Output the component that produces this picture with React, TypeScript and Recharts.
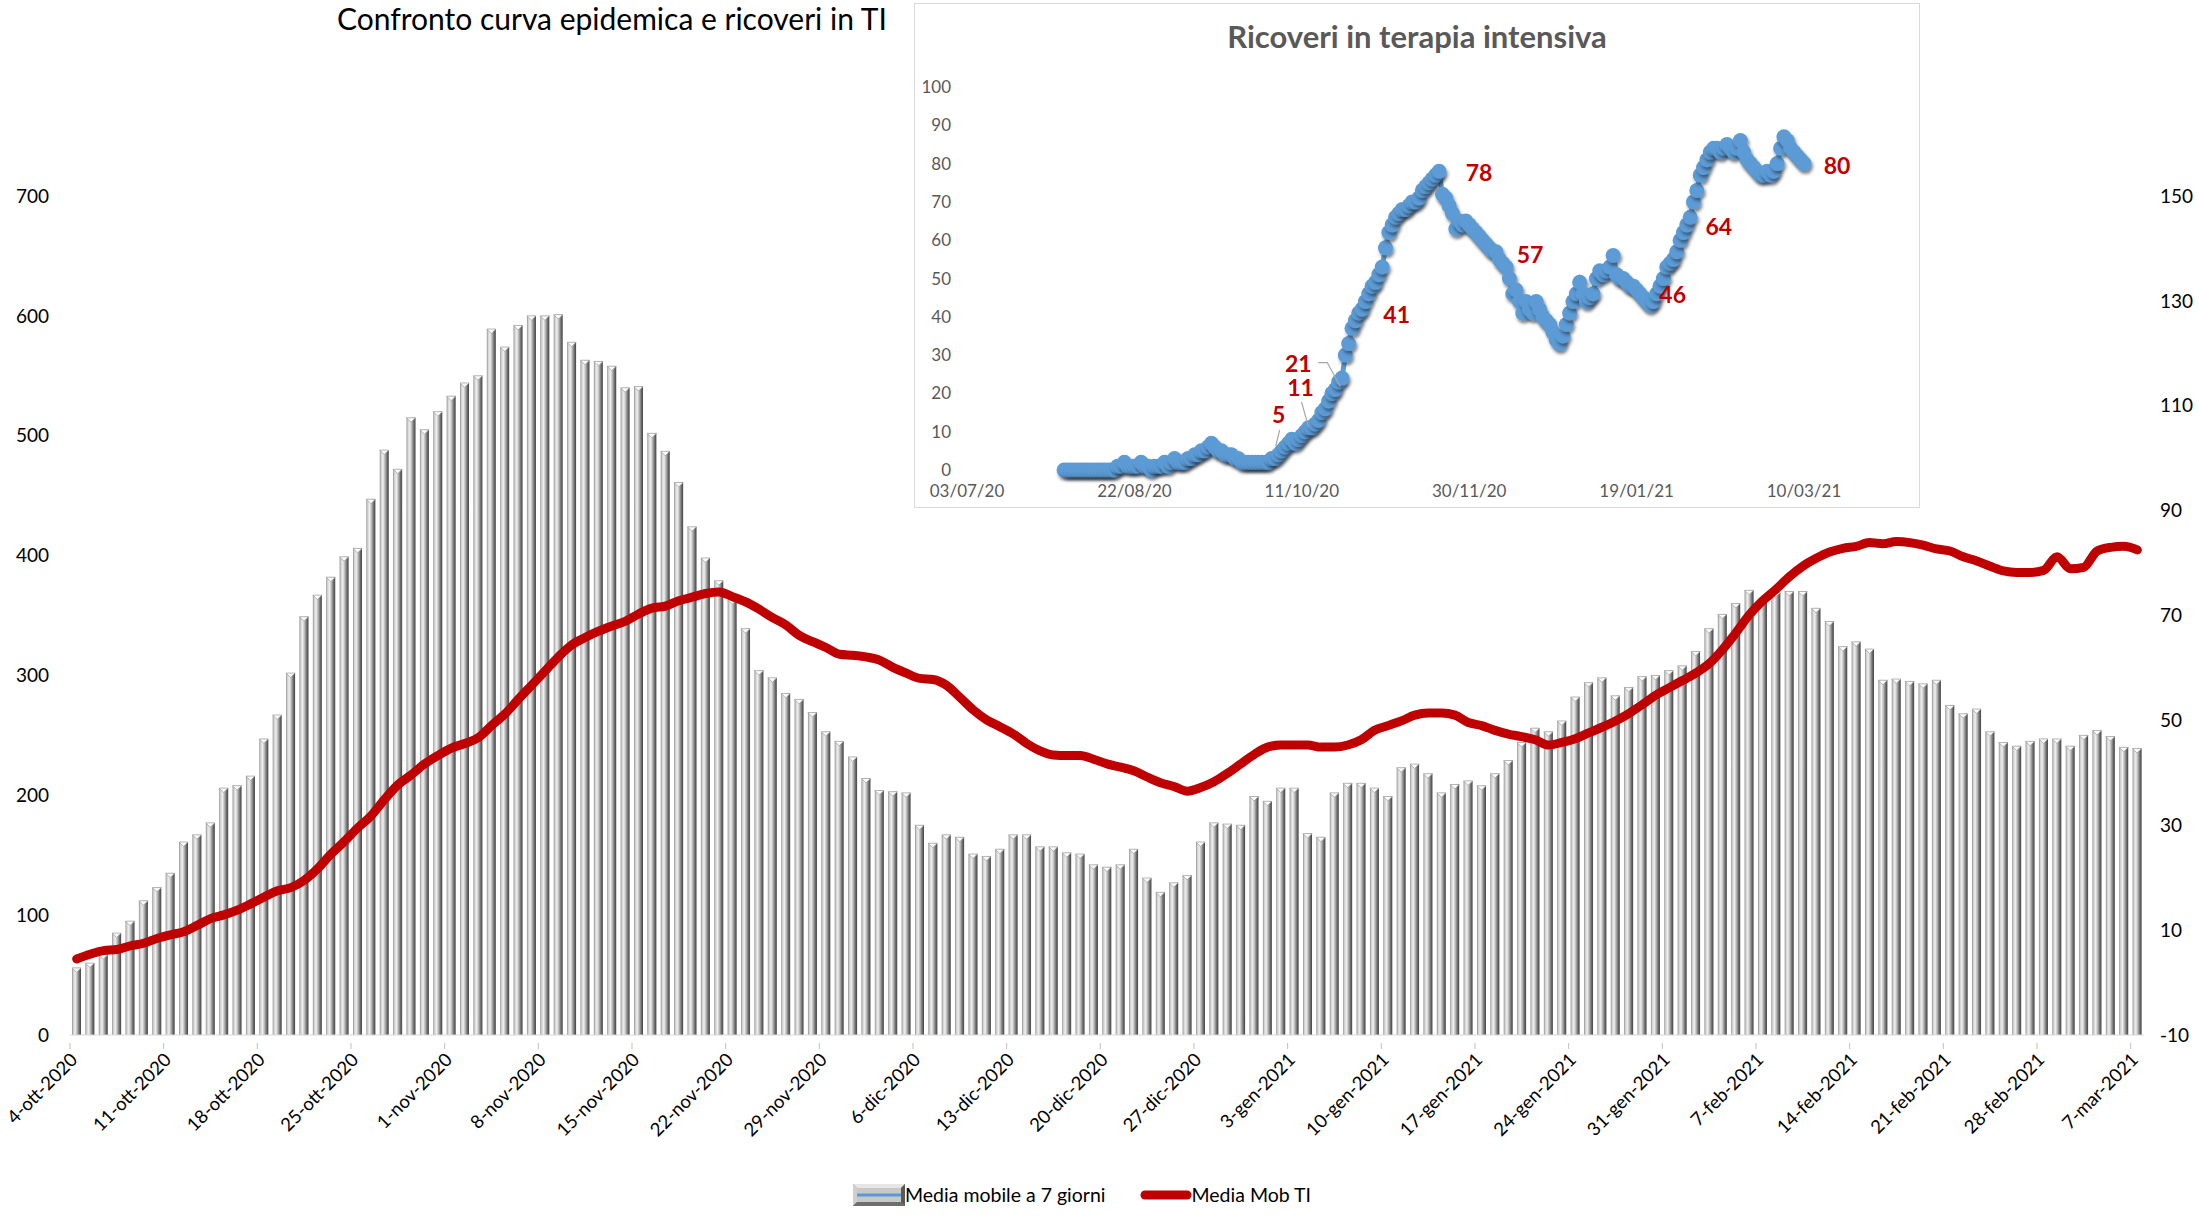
import React from 'react';
import { ComposedChart, LineChart, Bar, Line, XAxis, YAxis, LabelList } from 'recharts';

// 7-day moving average of new cases, 4-ott-2020 .. 7-mar-2021 (left axis)
const casesAvg = [
  56, 60, 67, 85, 95, 112, 123, 135, 161, 167, 177, 206, 208, 216, 247, 267, 302, 349, 367, 382,
  399, 406, 447, 488, 472, 515, 505, 520, 533, 544, 550, 589, 574, 592, 600, 600, 601, 578, 563, 562,
  558, 540, 541, 502, 487, 461, 424, 398, 379, 363, 339, 304, 298, 285, 280, 269, 253, 245, 232, 214,
  204, 203, 202, 175, 160, 167, 165, 151, 149, 155, 167, 167, 157, 157, 152, 151, 142, 140, 142, 155,
  131, 119, 127, 133, 161, 177, 176, 175, 199, 195, 206, 206, 168, 165, 202, 210, 210, 206, 199, 223,
  226, 218, 202, 209, 212, 208, 218, 229, 244, 256, 253, 262, 282, 294, 298, 283, 290, 299, 300, 304,
  308, 320, 339, 351, 360, 371, 363, 369, 370, 370, 356, 345, 324, 328, 322, 296, 297, 295, 293, 296,
  275, 268, 272, 253, 244, 241, 245, 247, 247, 241, 250, 254, 249, 240, 239,
];

// 7-day moving average of ICU admissions (right axis)
const icuAvg = [
  4.5, 5.4, 6.1, 6.3, 7.0, 7.5, 8.4, 9.1, 9.7, 10.9, 12.2, 12.9, 13.8, 15.0, 16.3, 17.5, 18.1, 19.5, 21.7, 24.5,
  26.9, 29.5, 31.8, 34.9, 37.7, 39.6, 41.7, 43.3, 44.7, 45.6, 46.7, 49.0, 51.2, 54.0, 56.7, 59.4, 62.1, 64.4, 65.8, 67.0,
  68.0, 68.9, 70.3, 71.4, 71.8, 72.8, 73.5, 74.2, 74.5, 73.6, 72.6, 71.2, 69.6, 68.2, 66.2, 65.0, 63.9, 62.6, 62.4, 62.1,
  61.5, 60.1, 59.0, 58.0, 57.8, 56.7, 54.4, 52.0, 50.1, 48.8, 47.4, 45.6, 44.2, 43.4, 43.3, 43.3, 42.6, 41.7, 41.1, 40.4,
  39.2, 38.1, 37.4, 36.5, 37.2, 38.3, 39.9, 41.7, 43.5, 44.9, 45.3, 45.3, 45.3, 44.9, 44.9, 45.3, 46.3, 48.1, 49.0, 49.9,
  51.0, 51.4, 51.4, 51.0, 49.6, 49.0, 48.1, 47.4, 46.9, 46.3, 45.3, 45.8, 46.5, 47.6, 48.7, 49.9, 51.3, 53.0, 54.8, 56.2,
  57.6, 59.0, 60.8, 63.5, 66.7, 70.1, 72.8, 75.0, 77.4, 79.4, 80.9, 82.1, 82.8, 83.2, 83.9, 83.7, 84.1, 83.9, 83.4, 82.7,
  82.3, 81.2, 80.4, 79.4, 78.5, 78.2, 78.2, 78.6, 81.2, 78.9, 79.2, 82.3, 83.0, 83.2, 82.5,
];

const leftTicks = [0, 100, 200, 300, 400, 500, 600, 700];
const rightTicks = [-10, 10, 30, 50, 70, 90, 110, 130, 150];

const MESI = ['gen', 'feb', 'mar', 'apr', 'mag', 'giu', 'lug', 'ago', 'set', 'ott', 'nov', 'dic'];
const dayLabel = (i: number) => {
  const d = new Date(2020, 9, 4 + i);
  return `${d.getDate()}-${MESI[d.getMonth()]}-${d.getFullYear()}`;
};

// inset: daily ICU admissions from 01/08/20 to 10/03/21
const icuDaily = [
  // ago
  0, 0, 0, 0, 0, 0, 0, 0, 0, 0, 0, 0, 0, 0, 0, 0, 1, 1, 2, 1, 1, 1, 1, 2, 1, 1, 0, 1, 1, 1, 2,
  // set
  1, 2, 3, 2, 2, 2, 3, 3, 4, 4, 5, 5, 6, 7, 6, 5, 5, 4, 4, 4, 3, 3, 2, 2, 2, 2, 2, 2, 2, 2,
  // ott
  2, 3, 3, 4, 5, 6, 7, 8, 7, 8, 9, 10, 11, 11, 12, 13, 15, 16, 18, 20, 21, 23, 24, 30, 33, 37, 39, 41, 42, 44, 46,
  // nov
  48, 49, 51, 53, 58, 62, 64, 66, 67, 68, 68, 69, 70, 70, 71, 73, 74, 75, 76, 77, 78, 72, 71, 69, 67, 63, 65, 64, 65, 64,
  // dic
  63, 62, 61, 60, 59, 58, 57, 57, 55, 54, 53, 50, 46, 47, 44, 41, 44, 42, 41, 44, 42, 40, 39, 38, 36, 34, 33, 35, 38, 41, 44,
  // gen
  46, 49, 46, 44, 45, 46, 50, 52, 51, 52, 53, 56, 51, 50, 50, 49, 48, 48, 47, 46, 45, 44, 43, 44, 46, 48, 50, 53, 54, 55, 57,
  // feb
  60, 62, 64, 66, 70, 73, 77, 79, 81, 83, 84, 84, 83, 84, 85, 84, 83, 84, 86, 83, 81, 80, 79, 78, 77, 77, 78, 77,
  // mar
  78, 80, 84, 87, 86, 84, 83, 82, 81, 80,
];
const INSET_FIRST_DAY = 29; // 01/08/20 counted from 03/07/20
const insetTicks = [0, 50, 100, 150, 200, 250];
const insetTickLabels = ['03/07/20', '22/08/20', '11/10/20', '30/11/20', '19/01/21', '10/03/21'];
const insetYTicks = [0, 10, 20, 30, 40, 50, 60, 70, 80, 90, 100];

// value callouts on the inset (day counted from 03/07/20)
const insetCallouts = [
  { day: 94, text: '5' },
  { day: 102, text: '11' },
  { day: 110, text: '21' },
  { day: 117, text: '41' },
  { day: 141, text: '78' },
  { day: 158, text: '57' },
  { day: 206, text: '46' },
  { day: 215, text: '64' },
  { day: 250, text: '80' },
];

const calloutPos: Record<string, { dx: number; dy: number; leader?: string }> = {
  '5': { dx: -3, dy: -37, leader: 'M-2,-21 L-6,-5' },
  '11': { dx: -8, dy: -41, leader: 'M-7,-26 L0,-1' },
  '21': { dx: -37, dy: -27, leader: 'M-17,-27 L-8,-27 L5,-3' },
  '41': { dx: 38, dy: 1 },
  '78': { dx: 40, dy: 1 },
  '57': { dx: 34, dy: 2 },
  '46': { dx: 16, dy: 0 },
  '64': { dx: 32, dy: 1 },
  '80': { dx: 33, dy: 1 },
};

const mainData = casesAvg.map((v, i) => ({ day: dayLabel(i), cases: v, ti: icuAvg[i] }));
const insetData = icuDaily.map((v, i) => {
  const d = INSET_FIRST_DAY + i;
  const c = insetCallouts.find((k) => k.day === d);
  return { d, v, callout: c ? c.text : undefined };
});

const W = 2199;
const H = 1225;
const PLOT_W = W - 70 - 55;
const BAND = PLOT_W / casesAvg.length;
const RED = '#C00000';
const BLUE = '#5B9BD5';

const CylBar = (props: any) => {
  const { x, y, width, height } = props;
  if (!height || height <= 0) return null;
  const tri = Math.min(width * 0.5, height);
  return (
    <g>
      <rect x={x} y={y} width={width} height={height} fill="url(#cylGrad)" />
      <path
        d={`M${x},${y} L${x + width},${y} L${x + width / 2},${y + tri} Z`}
        fill="#fbfbfb"
        stroke="#9a9a9a"
        strokeWidth={0.7}
      />
    </g>
  );
};

const DateTick = (props: any) => {
  const { x, y, payload } = props;
  return (
    <g transform={`translate(${x},${y})`}>
      <line x1={-BAND / 2} x2={-BAND / 2} y1={0} y2={6} stroke="#bfbfbf" />
      <text transform="translate(2,18) rotate(-45)" textAnchor="end" fontSize={18.5} fill="#000">
        {payload.value}
      </text>
    </g>
  );
};

const InsetDot = (props: any) => {
  const { cx, cy, index } = props;
  if (cx == null || cy == null) return <g key={index} />;
  return <circle key={index} cx={cx} cy={cy} r={7.5} fill={BLUE} filter="url(#dotShadow)" />;
};

const Callout = (props: any) => {
  const { value } = props;
  const x = props.x ?? props.viewBox?.x;
  const y = props.y ?? props.viewBox?.y;
  if (!value || x == null || y == null) return null;
  const pos = calloutPos[value] || { dx: 20, dy: 0 };
  return (
    <g>
      {pos.leader && (
        <path d={pos.leader} transform={`translate(${x},${y})`} fill="none" stroke="#a6a6a6" strokeWidth={1.2} />
      )}
      <text
        x={x + pos.dx}
        y={y + pos.dy}
        textAnchor="middle"
        dominantBaseline="central"
        fontSize={23}
        fontWeight={700}
        fill={RED}
      >
        {value}
      </text>
    </g>
  );
};

const App: React.FC = () => {
  return (
    <div style={{ position: 'relative', width: W, height: H, background: '#fff', fontFamily: 'Lato, sans-serif' }}>
      <style>{`body{margin:0}`}</style>
      <svg width={0} height={0} style={{ position: 'absolute' }}>
        <defs>
          <linearGradient id="cylGrad" x1="0" y1="0" x2="1" y2="0">
            <stop offset="0%" stopColor="#8a8a8a" />
            <stop offset="14%" stopColor="#cfcfcf" />
            <stop offset="36%" stopColor="#f0f0f0" />
            <stop offset="58%" stopColor="#b5b5b5" />
            <stop offset="82%" stopColor="#6a6a6a" />
            <stop offset="100%" stopColor="#444444" />
          </linearGradient>
          <filter id="dotShadow" x="-60%" y="-60%" width="220%" height="220%">
            <feDropShadow dx="1.5" dy="3" stdDeviation="1.6" floodColor="#1c2a38" floodOpacity="0.55" />
          </filter>
        </defs>
      </svg>

      <div style={{ position: 'absolute', left: 337, top: 0, fontSize: 30, color: '#000', whiteSpace: 'nowrap' }}>
        Confronto curva epidemica e ricoveri in TI
      </div>

      <ComposedChart
        width={W}
        height={H}
        data={mainData}
        margin={{ top: 196, right: 0, left: 0, bottom: 70 }}
        barCategoryGap="15%"
      >
        <XAxis
          dataKey="day"
          interval={6}
          tick={<DateTick />}
          tickLine={false}
          axisLine={{ stroke: '#d9d9d9' }}
          height={120}
        />
        <YAxis
          yAxisId="left"
          domain={[0, 700]}
          ticks={leftTicks}
          width={70}
          axisLine={false}
          tickLine={false}
          tickMargin={15}
          tick={{ fill: '#000', fontSize: 19 }}
        />
        <YAxis
          yAxisId="right"
          orientation="right"
          domain={[-10, 150]}
          ticks={rightTicks}
          width={55}
          axisLine={false}
          tickLine={false}
          tickMargin={10}
          tick={{ fill: '#000', fontSize: 19 }}
        />
        <Bar yAxisId="left" dataKey="cases" shape={<CylBar />} isAnimationActive={false} />
        <Line
          yAxisId="right"
          type="monotone"
          dataKey="ti"
          stroke={RED}
          strokeWidth={9}
          strokeLinecap="round"
          strokeLinejoin="round"
          dot={false}
          activeDot={false}
          isAnimationActive={false}
        />
      </ComposedChart>

      {/* inset chart */}
      <div
        style={{
          position: 'absolute',
          left: 914,
          top: 3,
          width: 1006,
          height: 505,
          border: '1px solid #d9d9d9',
          boxSizing: 'border-box',
          background: '#fff',
        }}
      >
        <div
          style={{
            position: 'absolute',
            top: 13,
            width: '100%',
            textAlign: 'center',
            fontSize: 31,
            fontWeight: 700,
            color: '#595959',
          }}
        >
          Ricoveri in terapia intensiva
        </div>
        <LineChart width={1004} height={503} data={insetData} margin={{ top: 83, right: 38, left: 0, bottom: 0 }}>
          <XAxis
            type="number"
            dataKey="d"
            domain={[0, 273]}
            ticks={insetTicks}
            interval={0}
            tickFormatter={(v: number) => insetTickLabels[insetTicks.indexOf(v)] ?? ''}
            axisLine={false}
            tickLine={false}
            tickMargin={9}
            height={37}
            tick={{ fill: '#595959', fontSize: 17 }}
          />
          <YAxis
            domain={[0, 100]}
            ticks={insetYTicks}
            width={52}
            axisLine={false}
            tickLine={false}
            tickMargin={10}
            tick={{ fill: '#595959', fontSize: 17 }}
          />
          <Line
            type="linear"
            dataKey="v"
            stroke={BLUE}
            strokeWidth={5}
            dot={<InsetDot />}
            activeDot={false}
            isAnimationActive={false}
          >
            <LabelList dataKey="callout" content={<Callout />} />
          </Line>
        </LineChart>
      </div>

      {/* legend */}
      <div
        style={{
          position: 'absolute',
          left: 853,
          top: 1183,
          display: 'flex',
          alignItems: 'center',
          fontSize: 19.5,
          color: '#000',
          whiteSpace: 'nowrap',
        }}
      >
        <svg width={52} height={22}>
          <rect x={0} y={0} width={52} height={22} fill="#8c8c8c" />
          <polygon points="0,0 52,0 48,4 4,4" fill="#e6e6e6" />
          <polygon points="0,0 4,4 4,18 0,22" fill="#cfcfcf" />
          <polygon points="52,0 52,22 48,18 48,4" fill="#5a5a5a" />
          <polygon points="0,22 4,18 48,18 52,22" fill="#6e6e6e" />
          <rect x={4} y={4} width={44} height={14} fill="#c8c8c8" />
          <rect x={4} y={9.5} width={44} height={3} fill={BLUE} />
        </svg>
        <span>Media mobile a 7 giorni</span>
        <svg width={52} height={14} style={{ marginLeft: 34 }}>
          <line x1={5} y1={7} x2={47} y2={7} stroke={RED} strokeWidth={9} strokeLinecap="round" />
        </svg>
        <span>Media Mob TI</span>
      </div>
    </div>
  );
};

export default App;
